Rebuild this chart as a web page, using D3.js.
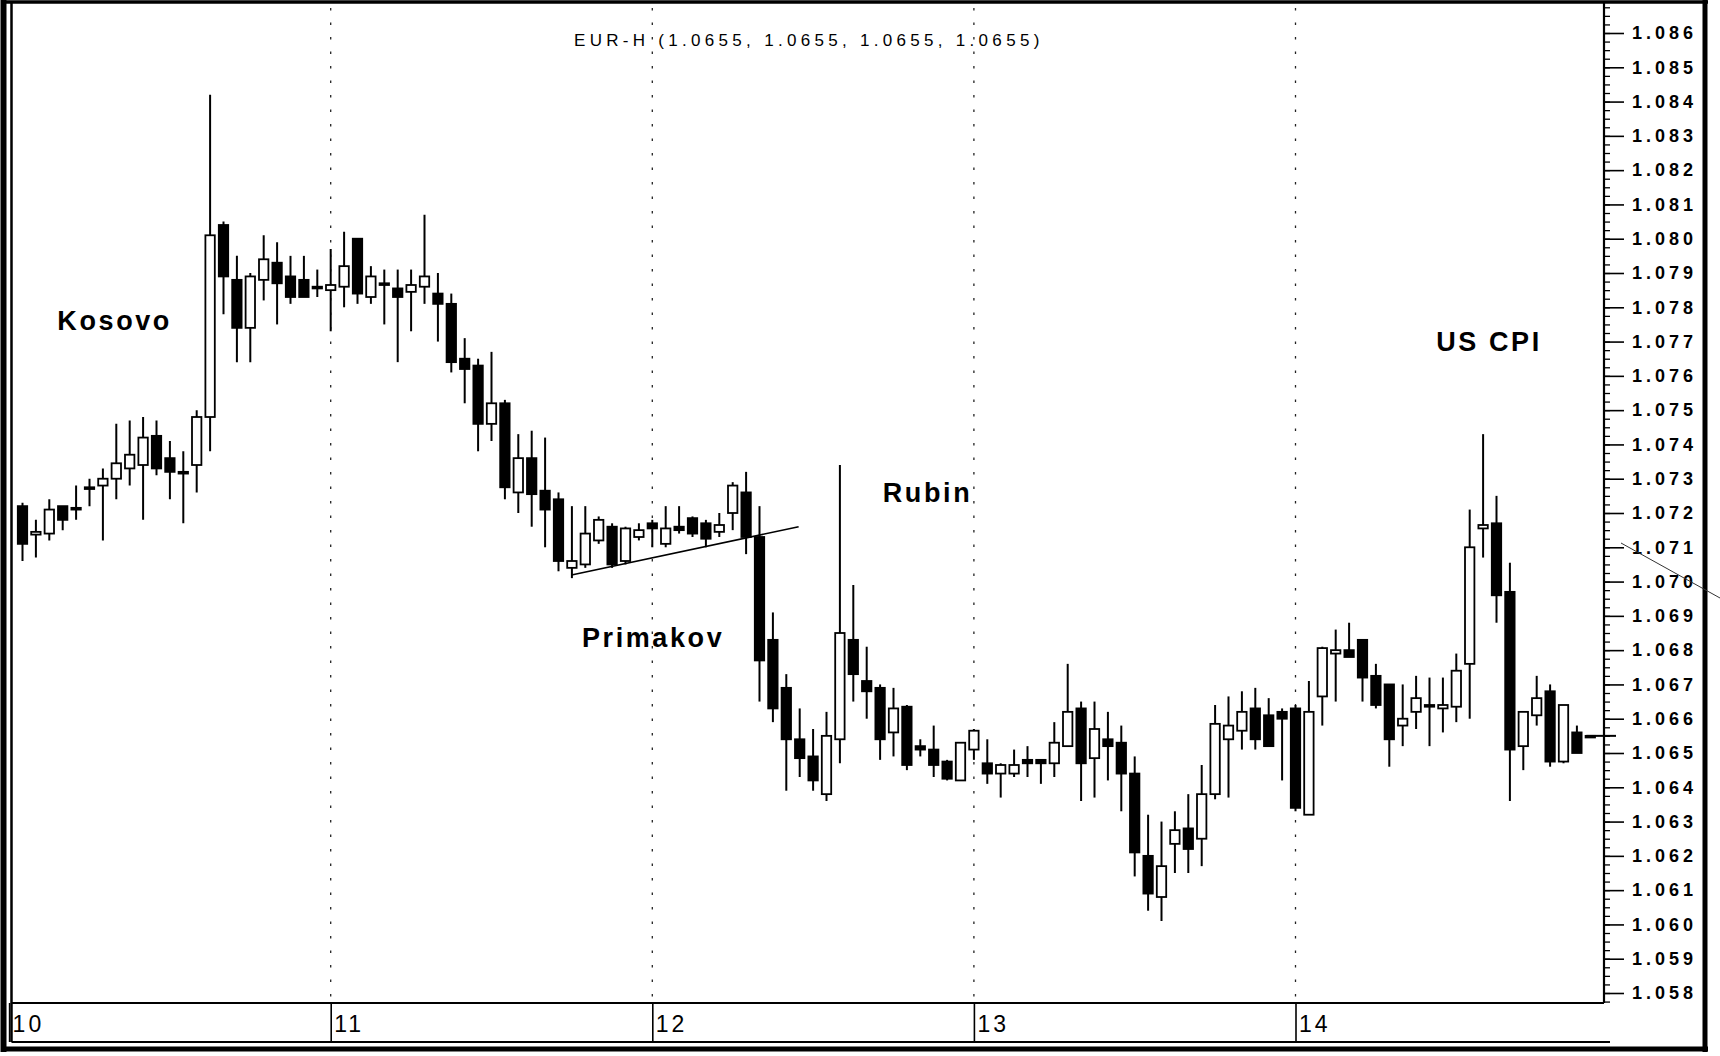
<!DOCTYPE html>
<html><head><meta charset="utf-8">
<script src="https://cdn.jsdelivr.net/npm/d3@7"></script>
<style>
html,body{margin:0;padding:0;background:#fff;}
svg{display:block;}
</style></head>
<body><svg id="chart" width="1720" height="1056"></svg>
<script>
// ---- data (hourly candles, hour index counted from day 10 00:00) ----
const hours = d3.range(1, 119);
const openP = [
1.0722,1.07137,1.0714,1.0722,1.0721,1.0727,1.0728,1.0730,1.0733,1.0734,
1.07425,1.0736,1.0732,1.0734,1.0748,1.0804,1.0788,1.0774,1.0788,1.0793,
1.0789,1.0788,1.0786,1.0785,1.0786,1.0800,1.0783,1.0787,1.07855,1.07845,
1.0786,1.0784,1.0781,1.0765,1.0763,1.0746,1.0752,1.0726,1.0736,1.07265,
1.0724,1.0704,1.0705,1.0712,1.0716,1.0706,1.0713,1.0717,1.0711,1.0716,
1.07185,1.0717,1.07145,1.0720,1.0726,1.0713,1.0683,1.0669,1.0654,1.0649,
1.0638,1.0654,1.0683,1.0671,1.0669,1.0656,1.06635,1.0652,1.0651,1.06475,
1.0642,1.0651,1.0647,1.0644,1.0644,1.0648,1.0648,1.0647,1.0652,1.0663,
1.06485,1.0654,1.0653,1.0644,1.0620,1.0608,1.06235,1.0628,1.0625,1.0638,
1.0654,1.06565,1.0663,1.0661,1.0662,1.0663,1.0632,1.06665,1.0679,1.0680,
1.0683,1.06725,1.0670,1.0658,1.0662,1.0664,1.0663,1.06635,1.0676,1.07155,
1.0717,1.0697,1.0652,1.0661,1.0668,1.06475,1.0656,1.0655];
const highP = [
1.0723,1.0718,1.0724,1.0722,1.0728,1.0730,1.0733,1.0746,1.0747,1.0748,
1.0747,1.0741,1.0738,1.0750,1.0842,1.0805,1.0795,1.0790,1.0801,1.0799,
1.0795,1.0795,1.0791,1.0797,1.0802,1.0800,1.0792,1.0791,1.0791,1.0791,
1.0807,1.0790,1.0784,1.0771,1.0765,1.0767,1.0753,1.0743,1.0744,1.0742,
1.0726,1.0722,1.0722,1.0719,1.0717,1.0716,1.0717,1.0718,1.0722,1.0722,
1.0719,1.0718,1.0720,1.0729,1.0732,1.0722,1.0691,1.0673,1.0663,1.0657,
1.0662,1.0734,1.0699,1.0681,1.0670,1.0669,1.0664,1.0654,1.0658,1.0648,
1.0653,1.0657,1.0654,1.0647,1.0651,1.0652,1.0648,1.0659,1.0676,1.0665,
1.0665,1.0662,1.0658,1.0649,1.0632,1.0630,1.0633,1.0638,1.06465,1.0664,
1.06665,1.0668,1.0669,1.0666,1.0663,1.0664,1.0671,1.0681,1.0686,1.0688,
1.0683,1.0676,1.0670,1.0670,1.06725,1.0672,1.0672,1.0679,1.0721,1.0743,
1.0725,1.07055,1.0662,1.06725,1.0670,1.0664,1.0658,1.0655];
const lowP = [
1.0706,1.0707,1.0712,1.0715,1.0718,1.0722,1.0712,1.0724,1.0728,1.0718,
1.0731,1.0724,1.0717,1.0726,1.0738,1.0778,1.0764,1.0764,1.0782,1.0775,
1.0781,1.0783,1.0783,1.0773,1.0780,1.0781,1.0781,1.0775,1.0764,1.0773,
1.0781,1.0770,1.0761,1.0752,1.0738,1.0741,1.0724,1.0720,1.0716,1.0710,
1.0703,1.0701,1.0704,1.0711,1.0704,1.0705,1.0712,1.0710,1.0710,1.0714,
1.0713,1.0710,1.0713,1.0715,1.0708,1.0665,1.0659,1.0639,1.0643,1.0639,
1.0636,1.0647,1.0665,1.0660,1.0648,1.0649,1.0645,1.0649,1.0643,1.0642,
1.0642,1.0648,1.0641,1.0637,1.0643,1.0643,1.0641,1.0643,1.0652,1.0636,
1.0637,1.0642,1.0633,1.0614,1.0604,1.0601,1.0615,1.0615,1.0617,1.06365,
1.0637,1.0651,1.0651,1.0652,1.0642,1.0633,1.0632,1.0658,1.0665,1.0678,
1.0665,1.0663,1.0646,1.0652,1.0657,1.0652,1.0656,1.0659,1.0660,1.0707,
1.0688,1.0636,1.0645,1.0658,1.0646,1.0647,1.0650,1.0655];
const closeP = [
1.0711,1.07145,1.0721,1.0718,1.07215,1.07275,1.0730,1.07345,1.0737,1.0742,
1.0733,1.0732,1.07315,1.0748,1.0801,1.0789,1.0774,1.0789,1.0794,1.0787,
1.0783,1.0783,1.07855,1.07865,1.0792,1.0784,1.0789,1.07865,1.0783,1.07865,
1.0789,1.0781,1.0764,1.0762,1.0746,1.0752,1.07275,1.0736,1.07255,1.0721,
1.0706,1.0706,1.0714,1.0718,1.0705,1.07155,1.0715,1.07155,1.07155,1.0715,
1.0714,1.07125,1.07165,1.0728,1.0713,1.0677,1.0663,1.0654,1.06485,1.0642,
1.0655,1.0685,1.0673,1.0668,1.0654,1.0663,1.06465,1.0651,1.06465,1.06425,
1.0653,1.06565,1.0644,1.06465,1.06465,1.0647,1.0647,1.0653,1.0662,1.0647,
1.0657,1.0652,1.0644,1.0621,1.0609,1.0617,1.06275,1.0622,1.0638,1.06585,
1.0658,1.0662,1.0654,1.0652,1.0660,1.0634,1.0662,1.06806,1.0680,1.0678,
1.0672,1.0664,1.0654,1.0660,1.0666,1.06635,1.0664,1.0674,1.0710,1.07165,
1.0696,1.0651,1.0662,1.0666,1.06475,1.0664,1.0650,1.0655];

const dayHours = [0, 24, 48, 72, 96];
const dayLabels = ["10", "11", "12", "13", "14"];
const priceTicks = [1.058,1.059,1.060,1.061,1.062,1.063,1.064,1.065,1.066,1.067,1.068,1.069,1.070,1.071,1.072,1.073,1.074,1.075,1.076,1.077,1.078,1.079,1.080,1.081,1.082,1.083,1.084,1.085,1.086];
const priceLabels = ["1.058","1.059","1.060","1.061","1.062","1.063","1.064","1.065","1.066","1.067","1.068","1.069","1.070","1.071","1.072","1.073","1.074","1.075","1.076","1.077","1.078","1.079","1.080","1.081","1.082","1.083","1.084","1.085","1.086"];
const titleText = "EUR-H (1.0655, 1.0655, 1.0655, 1.0655)";
const noteTexts = ["Kosovo", "Primakov", "Rubin", "US CPI"];
const noteHours = [3.6, 42.75, 65.2, 106.5];
const notePrices = [1.07734, 1.06809, 1.07232, 1.07673];
const trendHours = [41.97, 58.92];
const trendPrices = [1.07019, 1.07160];

// ---- layout ----
const svg = d3.select("#chart");
const plotL = 11.5, plotR = 1604, plotT = 4, plotB = 1003, stripB = 1042;
const x = d3.scaleLinear().domain([0, 96]).range([9.1, 1295.5]);
const y = d3.scaleLinear().domain([1.058, 1.086]).range([993, 33]);
const candleW = 9.4;
const ink = "#000";

svg.append("rect").attr("width", 1720).attr("height", 1056).attr("fill", "#fff");

const defs = svg.append("defs");
defs.append("clipPath").attr("id", "plotClip")
  .append("rect").attr("x", plotL + 1).attr("y", plotT).attr("width", plotR - plotL - 1).attr("height", plotB - plotT);

// dotted day grid
svg.append("g").selectAll("line").data(dayHours.slice(1)).join("line")
  .attr("x1", d => x(d)).attr("x2", d => x(d))
  .attr("y1", plotT + 4).attr("y2", plotB)
  .attr("stroke", "#222").attr("stroke-width", 1.3)
  .attr("stroke-dasharray", "2.5,12");

// title
svg.append("text").text(titleText)
  .attr("x", 574).attr("y", 46)
  .attr("font-family", "Liberation Sans, Arial, sans-serif")
  .attr("font-size", 17).attr("letter-spacing", 4.3).attr("fill", ink);

// candles
const candles = hours.map((h, i) => ({h, o: openP[i], hi: highP[i], lo: lowP[i], c: closeP[i]}));
const cg = svg.append("g").attr("clip-path", "url(#plotClip)");
cg.selectAll("line.wick").data(candles).join("line").attr("class", "wick")
  .attr("x1", d => x(d.h)).attr("x2", d => x(d.h))
  .attr("y1", d => y(d.hi)).attr("y2", d => y(d.lo))
  .attr("stroke", ink).attr("stroke-width", 2);
cg.selectAll("rect.body").data(candles).join("rect").attr("class", "body")
  .attr("x", d => x(d.h) - candleW / 2).attr("width", candleW)
  .attr("y", d => y(Math.max(d.o, d.c)))
  .attr("height", d => Math.max(1.6, Math.abs(y(d.o) - y(d.c))))
  .attr("fill", d => d.c > d.o ? "#fff" : ink)
  .attr("stroke", ink).attr("stroke-width", 1.8);

// trend line
svg.append("line")
  .attr("x1", x(trendHours[0])).attr("y1", y(trendPrices[0]))
  .attr("x2", x(trendHours[1])).attr("y2", y(trendPrices[1]))
  .attr("stroke", ink).attr("stroke-width", 1.6);

// annotations
svg.append("g").selectAll("text").data(noteTexts).join("text")
  .text(d => d)
  .attr("x", (d, i) => x(noteHours[i])).attr("y", (d, i) => y(notePrices[i]))
  .attr("font-family", "Liberation Sans, Arial, sans-serif")
  .attr("font-weight", "bold").attr("font-size", 27).attr("letter-spacing", 2.6)
  .attr("fill", ink);

// y axis (right)
const yMinor = d3.range(1.05775, 1.0868, 0.00025);
const yMinorAxis = svg.append("g").attr("transform", `translate(${plotR},0)`)
  .call(d3.axisRight(y).tickValues(yMinor).tickSize(6).tickFormat(""));
yMinorAxis.select(".domain").remove();
yMinorAxis.selectAll("line").attr("stroke", ink).attr("stroke-width", 1.3);

const yAxis = svg.append("g").attr("transform", `translate(${plotR},0)`)
  .call(d3.axisRight(y).tickValues(priceTicks).tickSize(20).tickPadding(8)
    .tickFormat((d, i) => priceLabels[i]));
yAxis.select(".domain").remove();
yAxis.selectAll("line").attr("stroke", ink).attr("stroke-width", 1.6);
yAxis.selectAll("text")
  .attr("font-family", "Liberation Sans, Arial, sans-serif")
  .attr("font-weight", "bold").attr("font-size", 18).attr("letter-spacing", 4)
  .attr("fill", ink);

// last price marker
svg.append("line")
  .attr("x1", x(118) - 4).attr("x2", plotR + 12)
  .attr("y1", y(closeP[closeP.length - 1])).attr("y2", y(closeP[closeP.length - 1]))
  .attr("stroke", ink).attr("stroke-width", 2);

// x axis (day strip)
const xAxis = svg.append("g").attr("transform", `translate(0,${plotB})`)
  .call(d3.axisBottom(x).tickValues(dayHours).tickSize(stripB - plotB).tickPadding(0)
    .tickFormat((d, i) => dayLabels[i]));
xAxis.select(".domain").remove();
xAxis.selectAll("line").attr("stroke", ink).attr("stroke-width", 1.6);
xAxis.selectAll("text")
  .attr("text-anchor", "start").attr("x", 3).attr("y", 29).attr("dy", 0)
  .attr("font-family", "Liberation Sans Narrow, Liberation Sans, Arial, sans-serif")
  .attr("font-size", 23).attr("letter-spacing", 3).attr("fill", ink);

// frames
svg.append("line").attr("x1", plotR).attr("x2", plotR).attr("y1", 1).attr("y2", plotB)
  .attr("stroke", ink).attr("stroke-width", 2.2);
svg.append("line").attr("x1", plotL).attr("x2", plotR).attr("y1", plotB).attr("y2", plotB)
  .attr("stroke", ink).attr("stroke-width", 1.8);
svg.append("line").attr("x1", plotL).attr("x2", plotR + 6).attr("y1", stripB).attr("y2", stripB)
  .attr("stroke", ink).attr("stroke-width", 2.2);
svg.append("line").attr("x1", plotL).attr("x2", plotL).attr("y1", 1).attr("y2", stripB)
  .attr("stroke", ink).attr("stroke-width", 2.5);
// outer border
svg.append("line").attr("x1", 3.5).attr("x2", 3.5).attr("y1", 0).attr("y2", 1052)
  .attr("stroke", ink).attr("stroke-width", 6);
svg.append("line").attr("x1", 1).attr("x2", 1708).attr("y1", 2).attr("y2", 2)
  .attr("stroke", ink).attr("stroke-width", 3.5);
svg.append("line").attr("x1", 1705).attr("x2", 1705).attr("y1", 0).attr("y2", 1052)
  .attr("stroke", ink).attr("stroke-width", 5);
svg.append("line").attr("x1", 1).attr("x2", 1708).attr("y1", 1049).attr("y2", 1049)
  .attr("stroke", ink).attr("stroke-width", 5);

// scan mark across the axis labels
svg.append("line").attr("x1", 1621).attr("y1", 543).attr("x2", 1720).attr("y2", 598)
  .attr("stroke", "#333").attr("stroke-width", 1);
</script>
</body></html>
